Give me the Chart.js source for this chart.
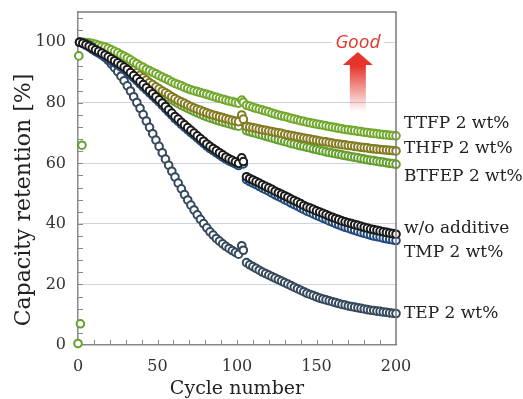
<!DOCTYPE html>
<html lang="en">
<head>
  <meta charset="UTF-8">
  <title>Capacity retention</title>
  <style>
    body, html { margin:0; padding:0; background:#fff; overflow:hidden; }
    canvas#chart { display:block; }
  </style>
</head>
<body>
  <canvas id="chart" width="523" height="399"></canvas>

  <script src="https://cdn.jsdelivr.net/npm/chart.js"></script>
  <script>
    // cycle numbers (break around cycle 104)
    const cycles = [1,3,5,7,9,11,13,15,17,19, 21,23,25,27,29,31,33,35,37,39,
      41,43,45,47,49,51,53,55,57,59, 61,63,65,67,69,71,73,75,77,79,
      81,83,85,87,89,91,93,95,97,99, 101,103,104,
      106,108,110,112,114,116,118,120,122,124, 126,128,130,132,134,136,138,140,142,144,
      146,148,150,152,154,156,158,160,162,164, 166,168,170,172,174,176,178,180,182,184,
      186,188,190,192,194,196,198,200];

    const ttfp = [100,100,99.9,99.8,99.6,99.3,99.0,98.7,98.4,98.0,
      97.5,97.0,96.5,95.9,95.4,94.8,94.2,93.5,92.9,92.2,
      91.7,91.1,90.6,90.1,89.6,89.0,88.5,88.0,87.5,86.9,
      86.4,86.0,85.6,85.1,84.7,84.3,84.0,83.7,83.4,83.1,
      82.8,82.5,82.1,81.8,81.5,81.2,80.9,80.6,80.4,80.1,
      79.9,80.9,80.2,
      79.2,78.9,78.5,78.2,77.9,77.6,77.3,77.0,76.6,76.3,
      76.0,75.7,75.5,75.2,74.9,74.6,74.4,74.1,73.9,73.6,
      73.4,73.2,73.0,72.8,72.6,72.4,72.2,72.0,71.8,71.6,
      71.4,71.2,71.1,70.9,70.8,70.6,70.5,70.3,70.2,70.0,
      69.9,69.8,69.6,69.5,69.4,69.3,69.2,69.1];

    const thfp = [100,99.9,99.7,99.4,99.1,98.7,98.3,97.8,97.4,96.9,
      96.2,95.5,94.8,94.0,93.3,92.5,91.6,90.8,89.9,89.1,
      88.3,87.5,86.7,86.0,85.3,84.6,83.9,83.3,82.7,82.0,
      81.4,80.8,80.3,79.8,79.3,78.8,78.3,77.9,77.5,77.1,
      76.7,76.3,76.0,75.7,75.4,75.1,74.8,74.5,74.2,74.0,
      73.8,76.0,74.6,
      72.2,72.0,71.8,71.6,71.3,71.1,70.9,70.7,70.5,70.3,
      70.1,69.9,69.6,69.4,69.2,69.0,68.8,68.6,68.4,68.2,
      68.0,67.8,67.6,67.4,67.2,67.1,66.9,66.7,66.5,66.4,
      66.2,66.1,65.9,65.8,65.6,65.5,65.3,65.2,65.1,64.9,
      64.8,64.7,64.6,64.5,64.4,64.3,64.2,64.1];

    const btfep = [100,99.8,99.6,99.3,98.9,98.5,98.0,97.5,97.0,96.5,
      95.8,95.0,94.3,93.5,92.7,91.9,91.0,90.1,89.2,88.3,
      87.5,86.7,85.9,85.1,84.4,83.7,83.0,82.3,81.7,81.0,
      80.4,79.8,79.2,78.7,78.2,77.7,77.2,76.7,76.3,75.8,
      75.4,75.0,74.7,74.3,74.0,73.7,73.4,73.1,72.8,72.5,
      72.3,75.0,73.6,
      70.8,70.5,70.2,69.9,69.6,69.3,69.0,68.7,68.4,68.1,
      67.8,67.5,67.2,66.9,66.6,66.4,66.1,65.8,65.6,65.3,
      65.1,64.8,64.6,64.3,64.1,63.8,63.6,63.4,63.2,63.0,
      62.8,62.6,62.4,62.2,62.0,61.8,61.6,61.4,61.2,61.0,
      60.9,60.7,60.5,60.4,60.2,60.0,59.9,59.7];
    // stray first-cycle points near x = 0
    const btfepEarlyCycles = [0, 1.5, 2.5, 0.5];
    const btfepEarly = [0.5, 7, 66, 95.5];

    const woAdditive = [100,99.7,99.2,98.7,98.1,97.5,97.0,96.4,95.8,95.2,
      94.5,93.9,93.2,92.5,91.8,91.0,90.0,89.0,88.0,87.0,
      86.0,85.0,84.0,83.0,82.0,81.0,79.9,78.8,77.7,76.6,
      75.5,74.6,73.6,72.7,71.8,70.9,70.0,69.1,68.2,67.3,
      66.4,65.6,64.9,64.2,63.5,62.8,62.1,61.5,61.0,60.5,
      60.0,61.8,60.6,
      55.6,55.0,54.5,54.0,53.5,52.9,52.4,51.9,51.4,50.8,
      50.3,49.8,49.3,48.8,48.2,47.7,47.2,46.7,46.1,45.6,
      45.2,44.8,44.3,43.9,43.5,43.1,42.6,42.2,41.8,41.4,
      41.0,40.7,40.4,40.1,39.8,39.5,39.2,38.9,38.6,38.3,
      38.1,37.9,37.6,37.4,37.2,37.0,36.8,36.6];

    const tmp = [100,99.6,99.0,98.4,97.7,97.0,96.4,95.8,95.1,94.5,
      93.8,93.2,92.5,91.8,91.1,90.3,89.3,88.3,87.3,86.3,
      85.3,84.3,83.3,82.3,81.3,80.3,79.2,78.1,77.0,75.9,
      74.8,73.9,72.9,72.0,71.1,70.2,69.3,68.4,67.5,66.6,
      65.7,64.9,64.2,63.5,62.8,62.1,61.4,60.8,60.3,59.8,
      59.3,61.0,59.8,
      54.6,54.0,53.5,53.0,52.4,51.8,51.3,50.8,50.2,49.6,
      49.1,48.6,48.0,47.5,46.9,46.4,45.9,45.3,44.8,44.2,
      43.8,43.3,42.8,42.4,41.9,41.5,41.0,40.6,40.1,39.7,
      39.3,38.9,38.6,38.2,37.9,37.5,37.2,36.9,36.6,36.3,
      36.0,35.8,35.6,35.3,35.1,34.9,34.7,34.5];

    const tep = [100,99.8,99.5,99.0,98.4,97.6,96.8,95.9,95.0,94.0,
      92.8,91.6,90.3,88.8,87.3,85.6,83.9,82.0,80.1,78.2,
      76.1,74.0,71.9,69.8,67.7,65.6,63.5,61.4,59.4,57.4,
      55.5,53.5,51.6,49.7,47.9,46.2,44.6,43.0,41.5,40.1,
      38.7,37.4,36.3,35.2,34.3,33.4,32.6,31.9,31.2,30.6,
      30.0,32.8,31.3,
      27.2,26.5,25.9,25.3,24.7,24.1,23.6,23.1,22.6,22.1,
      21.6,21.1,20.6,20.1,19.6,19.1,18.6,18.1,17.6,17.1,
      16.7,16.3,15.9,15.5,15.2,14.9,14.6,14.3,14.0,13.7,
      13.4,13.2,12.9,12.7,12.5,12.3,12.1,11.9,11.7,11.5,
      11.4,11.2,11.1,10.9,10.8,10.6,10.5,10.4];

    const seriesNames = ['TTFP 2 wt%', 'THFP 2 wt%', 'BTFEP 2 wt%', 'w/o additive', 'TMP 2 wt%', 'TEP 2 wt%'];
    // y value where each right-hand label sits
    const labelValues = [73.3, 65.0, 55.7, 38.5, 30.6, 10.4];
    const xTicks = [0, 50, 100, 150, 200];
    const yTicks = [0, 20, 40, 60, 80, 100];

    const toPoints = (xs, ys) => ys.map((y, i) => ({ x: xs[i], y }));

    Chart.defaults.font.family = '"DejaVu Serif", serif';

    function series(label, data, color, order) {
      return {
        label, data, order,
        showLine: false,
        pointRadius: 3.8,
        pointBorderWidth: 2,
        pointBorderColor: color,
        pointBackgroundColor: '#fff',
        clip: false
      };
    }

    const datasets = [
      series(seriesNames[3], toPoints(cycles, woAdditive), '#1a1a1a', 1),
      series(seriesNames[4], toPoints(cycles, tmp), '#21497a', 2),
      series(seriesNames[5], toPoints(cycles, tep), '#34495c', 3),
      series(seriesNames[0], toPoints(cycles, ttfp), '#72a82c', 4),
      series(seriesNames[1], toPoints(cycles, thfp), '#857b22', 5),
      series(seriesNames[2], toPoints(cycles, btfep).concat(toPoints(btfepEarlyCycles, btfepEarly)), '#64a02e', 6)
    ];

    const extras = {
      id: 'extras',
      beforeDatasetsDraw(chart) {
        const { ctx, chartArea: a, scales: { x, y } } = chart;
        ctx.save();
        ctx.strokeStyle = '#8a8a8a';
        ctx.lineWidth = 1;
        for (let v = 4; v <= 108; v += 4) {
          const py = Math.round(y.getPixelForValue(v)) + 0.5;
          ctx.beginPath(); ctx.moveTo(a.left, py); ctx.lineTo(a.left + 5, py); ctx.stroke();
        }
        for (let v = 10; v < 200; v += 10) {
          const px = Math.round(x.getPixelForValue(v)) + 0.5;
          ctx.beginPath(); ctx.moveTo(px, a.bottom); ctx.lineTo(px, a.bottom - 5); ctx.stroke();
        }
        // Good arrow
        const cx = x.getPixelForValue(176);
        const headTop = y.getPixelForValue(96.8), headBot = y.getPixelForValue(92.5), tail = y.getPixelForValue(77);
        const g = ctx.createLinearGradient(0, headBot, 0, tail);
        g.addColorStop(0, 'rgba(230,48,38,1)');
        g.addColorStop(1, 'rgba(230,48,38,0)');
        ctx.fillStyle = g;
        ctx.fillRect(cx - 8, headBot - 1, 16, tail - headBot + 1);
        ctx.fillStyle = '#e5352a';
        ctx.beginPath();
        ctx.moveTo(cx, headTop); ctx.lineTo(cx + 15, headBot); ctx.lineTo(cx - 15, headBot);
        ctx.closePath(); ctx.fill();
        ctx.font = 'italic 19px "Open Sans", sans-serif';
        ctx.textAlign = 'center'; ctx.textBaseline = 'middle';
        ctx.fillStyle = '#fff';
        ctx.fillRect(cx - 26, y.getPixelForValue(100) - 2, 52, 4);
        ctx.fillStyle = '#e0352b';
        ctx.fillText('Good', cx, y.getPixelForValue(100));
        ctx.restore();
      },
      afterDraw(chart) {
        const { ctx, chartArea: a, scales: { y } } = chart;
        ctx.save();
        ctx.strokeStyle = '#7a7a7a';
        ctx.lineWidth = 1.5;
        ctx.beginPath();
        ctx.moveTo(a.left, a.top); ctx.lineTo(a.right, a.top); ctx.lineTo(a.right, a.bottom);
        ctx.stroke();
        ctx.fillStyle = '#222';
        ctx.font = '17px "DejaVu Serif", serif';
        ctx.textAlign = 'left'; ctx.textBaseline = 'middle';
        seriesNames.forEach((n, i) => ctx.fillText(n, a.right + 8, y.getPixelForValue(labelValues[i])));
        ctx.translate(24, 200);
        ctx.rotate(-Math.PI / 2);
        ctx.textAlign = 'center';
        ctx.font = '22px "DejaVu Serif", serif';
        ctx.fillText('Capacity retention [%]', 0, 0);
        ctx.restore();
      }
    };

    new Chart(document.getElementById('chart').getContext('2d'), {
      type: 'scatter',
      data: { datasets },
      options: {
        responsive: false,
        animation: false,
        layout: { padding: { top: 12, right: 127, left: 0, bottom: 0 } },
        plugins: { legend: { display: false }, tooltip: { enabled: false } },
        scales: {
          x: {
            type: 'linear', min: 0, max: 200,
            afterBuildTicks: s => { s.ticks = xTicks.map(v => ({ value: v })); },
            ticks: { color: '#333', font: { size: 16 }, padding: 12, maxRotation: 0 },
            grid: { display: false, drawTicks: false },
            border: { color: '#888', width: 1.5 },
            title: { display: true, text: 'Cycle number', color: '#222', font: { size: 19 }, padding: { top: 0, bottom: -1 } },
            afterFit: s => { s.height = 54; s.paddingLeft = 0; s.paddingRight = 0; }
          },
          y: {
            min: 0, max: 110,
            afterBuildTicks: s => { s.ticks = yTicks.map(v => ({ value: v })); },
            ticks: { color: '#333', font: { size: 16 }, padding: 12 },
            grid: { color: c => c.tick && c.tick.value === 0 ? 'rgba(0,0,0,0)' : '#cdd4de', drawTicks: false },
            border: { color: '#888', width: 1.5 },
            afterFit: s => { s.width = 78; s.paddingTop = 0; s.paddingBottom = 0; }
          }
        }
      },
      plugins: [extras]
    });
  </script>
</body>
</html>
